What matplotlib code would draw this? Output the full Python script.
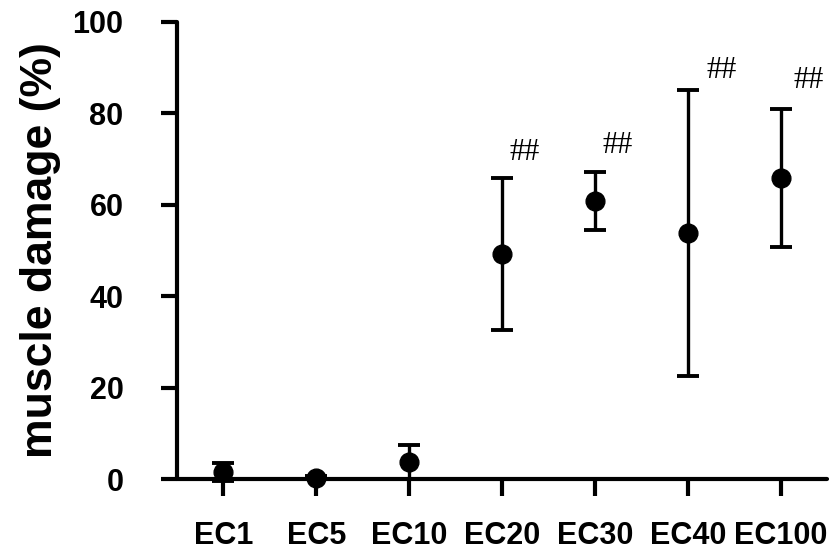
import matplotlib
matplotlib.use('Agg')
import matplotlib.pyplot as plt

# group labels and mean +/- sd
groups = ['EC1', 'EC5', 'EC10', 'EC20', 'EC30', 'EC40', 'EC100']
means = [1.5, 0.3, 3.7, 49.2, 60.8, 53.8, 65.8]
sds = [2.0, 0.4, 3.7, 16.7, 6.3, 31.2, 15.0]

# groups flagged with ## and where the mark sits (x shift, height)
marked = ['EC20', 'EC30', 'EC40', 'EC100']
mark_dx = [0.24, 0.25, 0.37, 0.30]
mark_y = [71.3, 73.0, 89.2, 87.0]

plt.rcParams['font.family'] = ['Liberation Sans', 'DejaVu Sans']

fig = plt.figure(figsize=(8.38, 5.57), dpi=100)
ax = fig.add_axes([0.2112, 0.140, 0.7757, 0.8214])

xpos = list(range(1, len(groups) + 1))
ax.errorbar(xpos, means, yerr=sds, fmt='o', color='black', ms=13.5,
            elinewidth=2.4, capsize=8, capthick=2.8, clip_on=False, zorder=3)

for g, dx, y in zip(marked, mark_dx, mark_y):
    i = groups.index(g)
    ax.text(xpos[i] + dx, y, '##', ha='center', va='center', fontsize=22,
            family=['Liberation Serif', 'DejaVu Serif'])

ax.set_xlim(0.5, 7.5)
ax.set_ylim(0, 100)
ax.set_xticks(xpos)
ax.set_xticklabels(groups, fontsize=22, fontweight='bold')
ax.set_yticks([0, 20, 40, 60, 80, 100])
ax.set_yticklabels(['0', '20', '40', '60', '80', '100'], fontsize=22, fontweight='bold')
ax.tick_params(axis='y', length=11.5, width=3, pad=27)
ax.tick_params(axis='x', length=12.5, width=3, pad=18)
ax.set_ylabel('muscle damage (%)', fontsize=32, fontweight='bold', labelpad=8)

for s in ['top', 'right']:
    ax.spines[s].set_visible(False)
for s in ['left', 'bottom']:
    ax.spines[s].set_linewidth(3)
    ax.spines[s].set_capstyle('round')

fig.savefig('out.png', dpi=100)
